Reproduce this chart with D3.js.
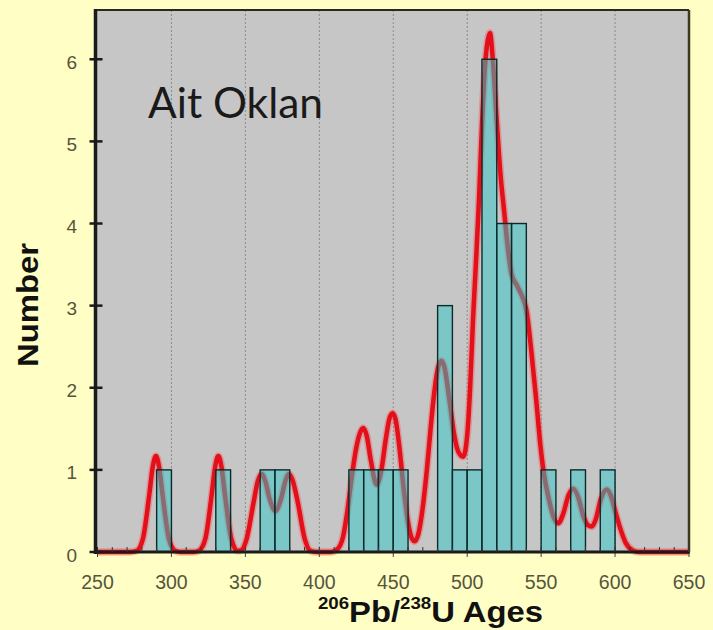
<!DOCTYPE html>
<html>
<head>
<meta charset="utf-8">
<script src="https://cdn.jsdelivr.net/npm/d3@7"></script>
<style>
  html, body { margin: 0; padding: 0; background: #fffec4; }
  svg { display: block; }
</style>
</head>
<body>
<svg id="chart" width="713" height="630"></svg>
<script>
// Histogram of zircon ages (10 Ma bins) and the relative probability curve
const binStarts = [290, 330, 360, 370, 420, 430, 440, 450, 480, 490, 500, 510, 520, 530, 550, 570, 590];
const binCounts = [1, 1, 1, 1, 1, 1, 1, 1, 3, 1, 1, 6, 4, 4, 1, 1, 1];
const binWidth = 10;

const curveAges = [
  250, 272, 276.5, 280.7, 285.1, 287.3, 289.5, 291.7, 293.9, 298.3, 302.5, 306,
  315, 318.5, 322.9, 327.3, 329.5, 331.7, 333.9, 336.1, 340.5, 344.7,
  347, 351, 355.5, 358.5, 361, 363.5, 366.5, 370.3, 374, 377, 379.5, 382, 385.5, 390, 394, 398,
  408, 412, 416, 419, 422, 425, 427.5, 429.7, 432, 435, 438.7, 442, 445, 447.5, 449.5, 451.5,
  454, 457, 460, 462.5, 464.6, 467, 470, 473, 475.5, 478, 480.5, 482.7, 485, 488, 491, 494,
  497.3, 500, 502, 504, 506, 508, 510, 512, 513.8, 515.4, 517.3, 520, 522.5, 525, 527.5, 530,
  533.5, 537, 540, 543.3, 546.7, 549.5, 551.5, 555.5, 558.5, 561.6, 565, 568.5, 571.8, 575,
  578.5, 581.5, 584.2, 587, 590.5, 594.3, 597.5, 600.5, 603.3, 607, 612, 616, 650
];
const curveDensity = [
  0, 0, 0.015, 0.16, 0.71, 1.03, 1.17, 1.03, 0.71, 0.16, 0.015, 0,
  0, 0.015, 0.16, 0.71, 1.03, 1.17, 1.03, 0.71, 0.16, 0.015,
  0.02, 0.17, 0.6, 0.87, 0.95, 0.86, 0.64, 0.5, 0.64, 0.86, 0.95, 0.87, 0.6, 0.17, 0.015, 0,
  0, 0.03, 0.18, 0.5, 0.92, 1.27, 1.45, 1.51, 1.42, 1.1, 0.82, 1.0, 1.38, 1.63, 1.69, 1.62,
  1.3, 0.78, 0.36, 0.17, 0.13, 0.22, 0.55, 1.05, 1.55, 1.98, 2.26, 2.33, 2.22, 1.85, 1.45, 1.22,
  1.16, 1.42, 2.0, 2.85, 3.55, 4.3, 5.2, 5.9, 6.22, 6.32, 6.0, 5.25, 4.6, 4.15, 3.7, 3.38,
  3.25, 3.12, 2.95, 2.46, 1.85, 1.3, 1.0, 0.62, 0.42, 0.35, 0.47, 0.69, 0.77, 0.67,
  0.44, 0.33, 0.31, 0.4, 0.65, 0.76, 0.67, 0.47, 0.3, 0.12, 0.02, 0, 0
];

const xTicks = [250, 300, 350, 400, 450, 500, 550, 600, 650];
const xMinorTicks = d3.range(250, 651, 10);
const yTicks = [0, 1, 2, 3, 4, 5, 6];
const sampleName = "Ait Oklan";

const svg = d3.select("#chart");
const W = 713, H = 630;

const x = d3.scaleLinear().domain([250, 650]).range([97.5, 689]);
const y = d3.scaleLinear().domain([0, 6.6]).range([552, 10]);

const [x0, x1] = x.range();
const [yb, yt] = y.range();

// page background
svg.append("rect").attr("width", W).attr("height", H).attr("fill", "#fffec4");

// plot area
svg.append("rect")
  .attr("x", x0 - 2).attr("y", yt)
  .attr("width", x1 - x0 + 2).attr("height", yb - yt)
  .attr("fill", "#c6c6c6");

// dotted vertical gridlines
svg.append("g").selectAll("line")
  .data(xTicks.filter(d => d > 250 && d < 650))
  .join("line")
  .attr("x1", d => x(d)).attr("x2", d => x(d))
  .attr("y1", yt).attr("y2", yb)
  .attr("stroke", "#8a8a8a").attr("stroke-width", 1)
  .attr("stroke-dasharray", "2,2");

// x axis baseline and major ticks (under the curve)
const gx = svg.append("g");
gx.selectAll("line.major")
  .data(xTicks)
  .join("line").attr("class", "major")
  .attr("x1", d => x(d)).attr("x2", d => x(d))
  .attr("y1", yb).attr("y2", yb + 5)
  .attr("stroke", "#444").attr("stroke-width", 1);
gx.append("line")
  .attr("x1", x0 - 3).attr("x2", x1 + 1).attr("y1", yb).attr("y2", yb)
  .attr("stroke", "#1a1a1a").attr("stroke-width", 3);

// probability curve
const pts = curveAges.map((a, i) => [a, curveDensity[i]]);
const line = d3.line()
  .x(d => x(d[0])).y(d => y(d[1]))
  .curve(d3.curveMonotoneX);

svg.append("path")
  .datum(pts)
  .attr("d", line)
  .attr("fill", "none")
  .attr("stroke", "#ff4040").attr("stroke-opacity", 0.35)
  .attr("stroke-width", 7.5)
  .attr("stroke-linejoin", "round");
svg.append("path")
  .datum(pts)
  .attr("d", line)
  .attr("fill", "none")
  .attr("stroke", "#e3101c")
  .attr("stroke-width", 4.5)
  .attr("stroke-linejoin", "round");

// histogram bars (translucent, curve shows through)
const bins = binStarts.map((s, i) => ({ start: s, count: binCounts[i] }));
svg.append("g").selectAll("rect")
  .data(bins)
  .join("rect")
  .attr("x", d => x(d.start))
  .attr("width", d => x(d.start + binWidth) - x(d.start))
  .attr("y", d => y(d.count))
  .attr("height", d => y(0) - y(d.count))
  .attr("fill", "#30c6c6").attr("fill-opacity", 0.5)
  .attr("stroke", "#0d2a2a").attr("stroke-width", 1.4);

// minor ticks on the x axis
gx.raise();
gx.selectAll("line.minor")
  .data(xMinorTicks)
  .join("line").attr("class", "minor")
  .attr("x1", d => x(d)).attr("x2", d => x(d))
  .attr("y1", yb - 5).attr("y2", yb)
  .attr("stroke", "#333").attr("stroke-width", 1);

// frame: top and right borders
svg.append("line")
  .attr("x1", x0 - 2).attr("x2", x1).attr("y1", yt).attr("y2", yt)
  .attr("stroke", "#2a2a1a").attr("stroke-width", 2);
svg.append("line")
  .attr("x1", x1).attr("x2", x1).attr("y1", yt).attr("y2", yb)
  .attr("stroke", "#3a3a22").attr("stroke-width", 2.5);

// x tick labels
svg.append("g").selectAll("text")
  .data(xTicks)
  .join("text")
  .attr("x", d => x(d)).attr("y", 589)
  .attr("text-anchor", "middle")
  .attr("font-family", "Liberation Sans, Arial, sans-serif")
  .attr("font-size", 19.5)
  .attr("fill", "#55553c")
  .text(d => d);

// y axis
const ax = x0 - 2;
const gy = svg.append("g");
gy.append("line")
  .attr("x1", ax).attr("x2", ax).attr("y1", yt - 1).attr("y2", yb + 2)
  .attr("stroke", "#1a1a1a").attr("stroke-width", 3.5);
gy.selectAll("line.tick")
  .data(yTicks)
  .join("line").attr("class", "tick")
  .attr("x1", ax - 6).attr("x2", ax + 7)
  .attr("y1", d => y(d)).attr("y2", d => y(d))
  .attr("stroke", "#1a1a1a").attr("stroke-width", 2.5);
gy.selectAll("text")
  .data(yTicks)
  .join("text")
  .attr("x", 77).attr("y", d => y(d))
  .attr("dy", "0.5em")
  .attr("text-anchor", "end")
  .attr("font-family", "Liberation Sans, Arial, sans-serif")
  .attr("font-size", 19)
  .attr("fill", "#55553c")
  .text(d => d);

// axis titles
svg.append("text")
  .attr("transform", "translate(38,305) rotate(-90)")
  .attr("text-anchor", "middle")
  .attr("font-family", "Liberation Sans, Arial, sans-serif")
  .attr("font-weight", "bold")
  .attr("font-size", 29)
  .attr("fill", "#111")
  .attr("textLength", 124).attr("lengthAdjust", "spacingAndGlyphs")
  .text("Number");

const xt = svg.append("text")
  .attr("x", 318).attr("y", 622)
  .attr("font-family", "Liberation Sans, Arial, sans-serif")
  .attr("font-weight", "bold")
  .attr("fill", "#111")
  .attr("textLength", 225).attr("lengthAdjust", "spacingAndGlyphs");
xt.append("tspan").attr("font-size", 16.5).attr("dy", -13).text("206");
xt.append("tspan").attr("font-size", 29).attr("dy", 13).text("Pb/");
xt.append("tspan").attr("font-size", 16.5).attr("dy", -13).text("238");
xt.append("tspan").attr("font-size", 29).attr("dy", 13).text("U Ages");

// sample label
svg.append("text")
  .attr("x", 148).attr("y", 118)
  .attr("font-family", "Lato, 'Open Sans', sans-serif")
  .attr("font-size", 42.5)
  .attr("fill", "#1a1a1a")
  .text(sampleName);
</script>
</body>
</html>
